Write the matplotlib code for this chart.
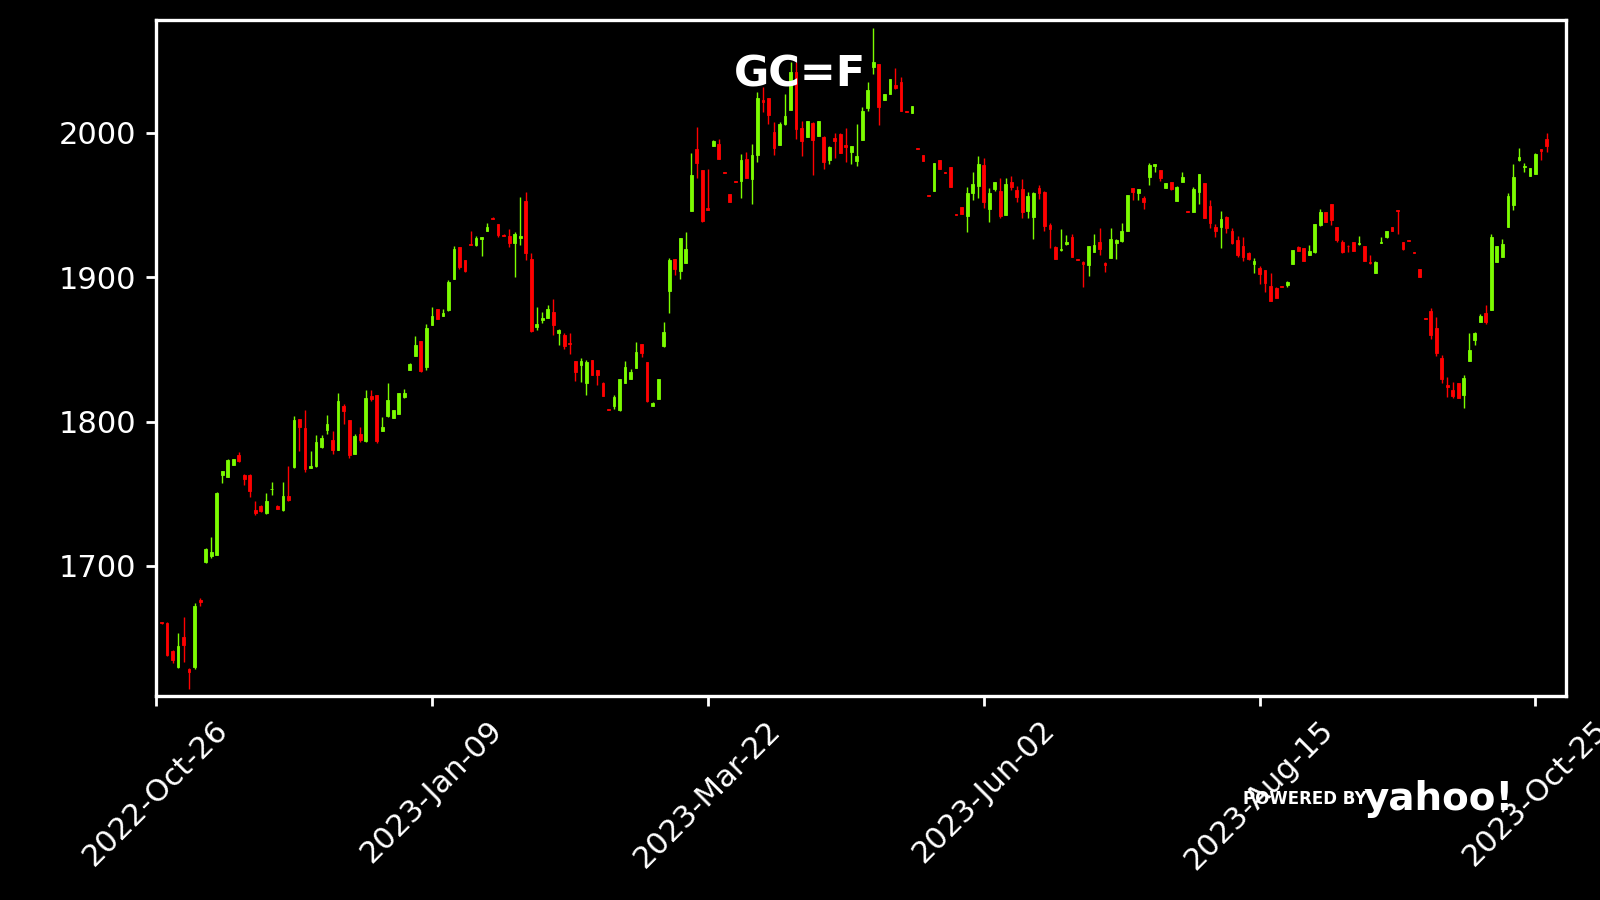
import matplotlib
matplotlib.use("Agg")
import matplotlib.pyplot as plt
import numpy as np

# GC=F daily candles (trading-day index 1..252)
opens = [
    1661.0, 1660.5, 1641.4, 1629.8, 1650.6, 1628.9, 1629.8, 1676.6, 1702.5, 1706.6,
    1707.8, 1763.2, 1761.8, 1770.1, 1777.0, 1763.2, 1763.2, 1738.9, 1741.7, 1736.4,
    1753.0, 1741.7, 1738.9, 1748.2, 1768.2, 1801.7, 1795.5, 1768.0, 1768.9, 1782.1,
    1794.3, 1787.4, 1780.5, 1810.9, 1801.2, 1777.7, 1791.5, 1786.2, 1817.8, 1818.5,
    1793.8, 1803.5, 1802.8, 1805.4, 1816.7, 1835.8, 1845.7, 1855.9, 1838.1, 1867.0,
    1878.0, 1873.4, 1876.9, 1898.8, 1920.7, 1911.9, 1923.0, 1921.9, 1926.7, 1932.2,
    1941.0, 1936.9, 1929.3, 1928.5, 1923.5, 1927.4, 1952.8, 1912.6, 1865.6, 1870.0,
    1872.0, 1876.0, 1861.6, 1859.6, 1854.5, 1842.0, 1839.0, 1827.0, 1842.7, 1835.8,
    1827.0, 1808.8, 1811.1, 1807.7, 1827.0, 1829.8, 1837.4, 1853.8, 1841.3, 1810.9,
    1815.5, 1852.0, 1890.7, 1912.6, 1903.9, 1910.1, 1945.9, 1988.8, 1974.2, 1947.5,
    1991.1, 1992.2, 1972.6, 1957.6, 1966.6, 1966.2, 1981.8, 1968.0, 1984.6, 2022.7,
    2023.8, 2000.8, 1991.5, 2005.8, 2015.8, 2042.3, 2003.5, 1997.3, 2007.0, 1998.0,
    1997.3, 1981.2, 1996.6, 1998.9, 1991.5, 1986.9, 1980.7, 1995.0, 2016.9, 2045.7,
    2047.6, 2022.7, 2026.8, 2033.1, 2035.4, 2014.8, 2013.7, 1989.2, 1984.6, 1956.9,
    1959.7, 1981.2, 1972.6, 1976.3, 1943.6, 1948.6, 1942.6, 1958.5, 1963.4, 1977.7,
    1947.2, 1961.1, 1959.7, 1943.1, 1965.7, 1960.4, 1961.1, 1945.9, 1941.9, 1962.0,
    1959.2, 1936.1, 1920.5, 1918.8, 1922.8, 1928.1, 1912.4, 1910.8, 1908.5, 1917.7,
    1924.1, 1910.1, 1913.5, 1923.9, 1925.1, 1932.0, 1961.5, 1958.1, 1954.6, 1969.1,
    1977.0, 1974.2, 1962.0, 1965.7, 1953.0, 1966.1, 1945.6, 1945.4, 1959.2, 1965.0,
    1949.3, 1934.5, 1935.0, 1941.9, 1931.9, 1925.7, 1921.5, 1916.5, 1909.1, 1906.6,
    1904.9, 1893.9, 1892.7, 1893.6, 1894.6, 1909.1, 1920.6, 1919.9, 1915.3, 1917.2,
    1936.1, 1944.8, 1950.6, 1934.5, 1924.5, 1921.8, 1924.1, 1922.9, 1921.5, 1910.7,
    1903.1, 1923.9, 1928.0, 1934.5, 1946.5, 1924.1, 1925.5, 1917.2, 1905.7, 1871.5,
    1876.2, 1864.9, 1844.3, 1825.4, 1821.9, 1826.6, 1818.5, 1842.2, 1856.6, 1869.2,
    1875.0, 1877.3, 1910.8, 1914.2, 1935.0, 1950.0, 1981.1, 1976.0, 1970.0, 1971.4,
    1988.7, 1995.7,
]
highs = [
    1661.5, 1661.0, 1641.6, 1653.6, 1664.7, 1629.2, 1674.3, 1678.0, 1712.2, 1720.0,
    1751.0, 1766.1, 1773.8, 1774.4, 1778.8, 1763.4, 1763.4, 1744.7, 1741.9, 1750.5,
    1758.1, 1741.9, 1758.1, 1768.9, 1803.5, 1801.9, 1807.7, 1779.3, 1790.4, 1790.4,
    1804.4, 1793.8, 1819.7, 1812.3, 1801.4, 1791.5, 1796.1, 1822.0, 1822.0, 1818.7,
    1803.1, 1826.6, 1808.3, 1819.9, 1822.4, 1840.2, 1858.9, 1856.1, 1867.6, 1879.6,
    1878.2, 1877.8, 1898.1, 1921.6, 1920.9, 1912.1, 1932.2, 1928.8, 1927.8, 1937.3,
    1941.5, 1937.1, 1929.5, 1933.4, 1931.1, 1955.3, 1959.2, 1917.0, 1879.6, 1875.5,
    1880.6, 1884.7, 1864.0, 1861.2, 1861.6, 1842.2, 1843.9, 1842.7, 1842.9, 1836.0,
    1827.2, 1809.0, 1818.5, 1829.6, 1841.6, 1836.3, 1855.4, 1854.0, 1841.5, 1813.2,
    1829.8, 1868.8, 1913.1, 1912.8, 1927.1, 1931.5, 1985.8, 2004.2, 1974.4, 1974.7,
    1994.7, 1995.7, 1972.8, 1957.8, 1966.8, 1985.1, 1986.9, 1992.0, 2028.0, 2031.9,
    2024.0, 2007.2, 2007.2, 2026.8, 2049.2, 2049.2, 2008.1, 2008.3, 2007.2, 2008.3,
    1997.5, 1990.6, 1999.6, 2000.1, 2003.1, 1991.0, 2005.8, 2018.1, 2035.4, 2072.7,
    2047.8, 2027.0, 2037.4, 2045.1, 2038.8, 2015.0, 2018.7, 1989.4, 1984.8, 1957.1,
    1979.0, 1981.4, 1972.8, 1976.5, 1943.8, 1948.8, 1962.7, 1973.1, 1983.5, 1982.8,
    1962.0, 1965.9, 1968.9, 1968.9, 1970.3, 1963.4, 1967.8, 1958.8, 1959.2, 1963.9,
    1959.4, 1937.3, 1921.6, 1933.1, 1929.2, 1929.7, 1912.6, 1911.0, 1921.8, 1929.7,
    1934.3, 1910.3, 1934.3, 1926.5, 1937.3, 1957.1, 1961.7, 1961.3, 1956.4, 1978.8,
    1978.6, 1974.4, 1965.4, 1965.9, 1962.9, 1972.6, 1945.8, 1962.7, 1971.6, 1965.2,
    1953.4, 1936.6, 1945.8, 1942.1, 1933.8, 1928.5, 1928.0, 1917.6, 1913.0, 1907.7,
    1905.1, 1902.6, 1892.9, 1893.8, 1897.6, 1919.0, 1921.8, 1920.1, 1922.2, 1937.0,
    1946.9, 1945.0, 1950.8, 1934.7, 1925.7, 1922.2, 1924.3, 1928.5, 1921.7, 1915.3,
    1910.9, 1927.5, 1932.1, 1934.7, 1946.7, 1924.3, 1925.7, 1917.4, 1905.9, 1871.7,
    1878.5, 1872.2, 1846.2, 1830.7, 1827.7, 1826.8, 1831.9, 1861.6, 1861.9, 1874.5,
    1880.8, 1929.9, 1921.8, 1926.2, 1958.1, 1978.1, 1989.2, 1979.3, 1975.6, 1985.7,
    1989.0, 2000.0,
]
lows = [
    1659.8, 1638.0, 1632.8, 1629.5, 1633.3, 1615.1, 1628.7, 1672.5, 1702.2, 1705.3,
    1707.5, 1757.4, 1761.5, 1769.9, 1772.2, 1756.0, 1747.7, 1735.5, 1737.6, 1736.2,
    1748.9, 1739.4, 1737.8, 1745.2, 1768.0, 1779.3, 1764.8, 1767.5, 1768.7, 1781.9,
    1791.5, 1777.7, 1780.3, 1798.4, 1774.7, 1777.5, 1785.5, 1786.0, 1813.9, 1785.1,
    1793.6, 1803.3, 1802.6, 1805.2, 1816.5, 1835.6, 1845.5, 1834.5, 1835.8, 1866.8,
    1871.1, 1873.2, 1876.7, 1898.6, 1905.5, 1903.2, 1921.9, 1921.2, 1914.9, 1932.0,
    1940.1, 1927.6, 1928.6, 1920.7, 1900.4, 1922.3, 1911.9, 1861.9, 1863.5, 1868.1,
    1871.8, 1859.8, 1852.9, 1850.1, 1846.9, 1828.2, 1827.3, 1818.3, 1832.1, 1825.2,
    1817.8, 1808.0, 1808.6, 1807.5, 1826.8, 1829.6, 1837.2, 1844.6, 1813.7, 1810.7,
    1815.3, 1851.8, 1875.0, 1901.6, 1898.6, 1909.9, 1945.7, 1968.9, 1938.3, 1946.6,
    1990.9, 1981.6, 1971.8, 1952.1, 1965.8, 1955.1, 1968.3, 1950.5, 1979.5, 2014.1,
    2005.8, 1984.6, 1991.3, 2005.6, 2015.6, 1995.7, 1983.9, 1997.1, 1970.8, 1997.8,
    1974.9, 1978.2, 1982.8, 1985.6, 1980.0, 1978.4, 1977.2, 1994.8, 2015.3, 2040.4,
    2005.4, 2022.5, 2026.6, 2030.3, 2014.9, 2014.1, 2013.5, 1988.6, 1980.5, 1956.2,
    1959.5, 1974.7, 1971.9, 1962.3, 1942.9, 1943.4, 1931.1, 1953.5, 1954.6, 1947.7,
    1938.0, 1959.7, 1940.8, 1942.9, 1960.4, 1952.3, 1941.2, 1940.8, 1926.3, 1954.2,
    1932.0, 1920.0, 1912.4, 1918.3, 1922.3, 1914.0, 1911.8, 1893.0, 1900.8, 1917.5,
    1915.4, 1903.4, 1913.3, 1912.6, 1924.1, 1931.8, 1953.4, 1953.4, 1947.2, 1963.8,
    1973.0, 1966.6, 1961.8, 1960.6, 1952.8, 1965.9, 1945.0, 1945.2, 1950.4, 1940.6,
    1933.8, 1928.1, 1920.0, 1930.4, 1923.2, 1913.7, 1911.4, 1912.1, 1903.1, 1895.0,
    1889.9, 1883.5, 1885.6, 1893.0, 1892.9, 1908.9, 1917.9, 1911.0, 1915.1, 1917.0,
    1935.4, 1938.2, 1936.1, 1924.5, 1916.5, 1917.6, 1917.9, 1922.2, 1911.2, 1909.1,
    1902.9, 1923.7, 1926.9, 1932.0, 1929.6, 1919.1, 1924.8, 1916.5, 1900.2, 1870.8,
    1857.0, 1845.5, 1826.6, 1816.9, 1816.2, 1816.0, 1809.3, 1842.0, 1852.9, 1869.0,
    1867.6, 1877.1, 1910.6, 1914.0, 1934.8, 1946.5, 1980.7, 1973.0, 1969.8, 1971.2,
    1981.1, 1986.9,
]
closes = [
    1660.2, 1638.6, 1635.1, 1644.8, 1645.0, 1626.4, 1672.5, 1675.0, 1711.9, 1709.9,
    1750.7, 1765.9, 1773.5, 1774.2, 1772.4, 1760.4, 1751.6, 1736.6, 1737.8, 1745.2,
    1753.4, 1739.6, 1748.6, 1745.4, 1801.2, 1795.9, 1767.1, 1769.4, 1785.8, 1788.5,
    1798.5, 1780.0, 1814.4, 1807.0, 1777.0, 1790.1, 1787.4, 1816.2, 1815.5, 1786.7,
    1796.4, 1815.1, 1808.1, 1819.7, 1819.7, 1840.0, 1853.1, 1834.7, 1864.6, 1873.2,
    1871.3, 1875.3, 1896.3, 1919.3, 1906.9, 1904.3, 1922.0, 1926.9, 1927.6, 1935.0,
    1940.5, 1929.2, 1928.8, 1923.5, 1929.9, 1928.8, 1916.6, 1862.8, 1867.2, 1872.0,
    1878.0, 1866.5, 1863.5, 1852.0, 1853.8, 1834.0, 1842.0, 1840.9, 1832.3, 1831.9,
    1818.0, 1808.2, 1817.1, 1829.4, 1837.7, 1834.0, 1848.3, 1847.8, 1813.9, 1813.0,
    1829.6, 1862.1, 1911.9, 1905.5, 1926.9, 1919.5, 1970.8, 1979.3, 1938.5, 1946.8,
    1994.5, 1981.8, 1972.0, 1952.3, 1966.0, 1981.2, 1968.5, 1984.6, 2023.8, 2021.5,
    2012.3, 1989.7, 2005.8, 2011.6, 2042.3, 2002.6, 1994.3, 2008.1, 1995.0, 2008.1,
    1980.0, 1990.4, 1994.3, 1985.8, 1990.2, 1990.8, 1983.9, 2015.1, 2029.6, 2049.2,
    2018.1, 2026.8, 2037.2, 2030.8, 2015.1, 2014.3, 2018.5, 1988.8, 1980.7, 1956.4,
    1978.8, 1974.9, 1972.1, 1962.5, 1943.1, 1943.6, 1958.1, 1964.3, 1978.4, 1952.3,
    1958.5, 1965.7, 1942.6, 1964.3, 1962.7, 1955.8, 1944.9, 1956.2, 1958.1, 1958.5,
    1935.7, 1933.4, 1912.6, 1919.5, 1924.6, 1914.2, 1912.0, 1909.1, 1921.6, 1922.3,
    1919.5, 1908.5, 1926.2, 1925.8, 1932.0, 1956.9, 1959.2, 1961.1, 1952.3, 1977.7,
    1978.4, 1968.4, 1965.2, 1960.8, 1962.7, 1969.1, 1945.2, 1961.1, 1971.4, 1940.8,
    1937.8, 1932.0, 1940.3, 1933.8, 1923.4, 1915.3, 1914.2, 1912.3, 1911.4, 1902.2,
    1895.7, 1883.7, 1885.8, 1893.2, 1896.4, 1918.8, 1918.1, 1911.2, 1918.1, 1936.8,
    1944.8, 1938.4, 1939.5, 1925.7, 1917.6, 1921.3, 1918.1, 1923.6, 1911.4, 1909.6,
    1910.7, 1924.5, 1931.9, 1932.2, 1945.8, 1919.3, 1925.0, 1916.7, 1900.4, 1871.0,
    1860.0, 1847.3, 1829.3, 1824.0, 1817.8, 1816.2, 1830.0, 1849.6, 1861.2, 1873.2,
    1869.2, 1928.1, 1921.6, 1923.0, 1956.2, 1969.1, 1983.0, 1977.0, 1975.4, 1985.0,
    1987.6, 1990.8,
]

tick_pos = [0, 50, 100, 150, 200, 250]
tick_labels = ['2022-Oct-26', '2023-Jan-09', '2023-Mar-22',
               '2023-Jun-02', '2023-Aug-15', '2023-Oct-25']

o = np.array(opens)
h = np.array(highs)
l = np.array(lows)
c = np.array(closes)
x = np.arange(1, len(o) + 1)

up = '#7cfc00'
down = '#ff0000'
cols = np.where(c >= o, up, down)

fig = plt.figure(figsize=(8, 4.5), dpi=200, facecolor='black')
ax = fig.add_axes([0.0975, 0.227, 0.8815, 0.7503], facecolor='black')

ax.vlines(x, l, h, colors=cols, linewidth=0.5)
ax.bar(x, c - o, bottom=o, width=0.5, color=cols, edgecolor=cols, linewidth=0.3)

ax.set_xlim(0, 255.6)
ax.set_ylim(1610.2, 2077.7)
ax.set_yticks([1700, 1800, 1900, 2000])
ax.set_xticks(tick_pos)
ax.set_xticklabels(tick_labels, rotation=45)

for s in ax.spines.values():
    s.set_color('white')
    s.set_linewidth(1.2)
ax.tick_params(colors='white', labelsize=11, width=1)

fig.text(0.5, 0.917, 'GC=F', ha='center', va='center', color='white',
         fontsize=15.5, fontweight='bold')

# "powered by yahoo!" mark
fig.text(0.777, 0.112, 'POWERED BY', ha='left', va='center', color='white',
         fontsize=6, fontweight='bold')
fig.text(0.852, 0.112, 'yahoo!', ha='left', va='center', color='white',
         fontsize=14, fontweight='bold')

fig.savefig('out.png', dpi=200, facecolor='black')
